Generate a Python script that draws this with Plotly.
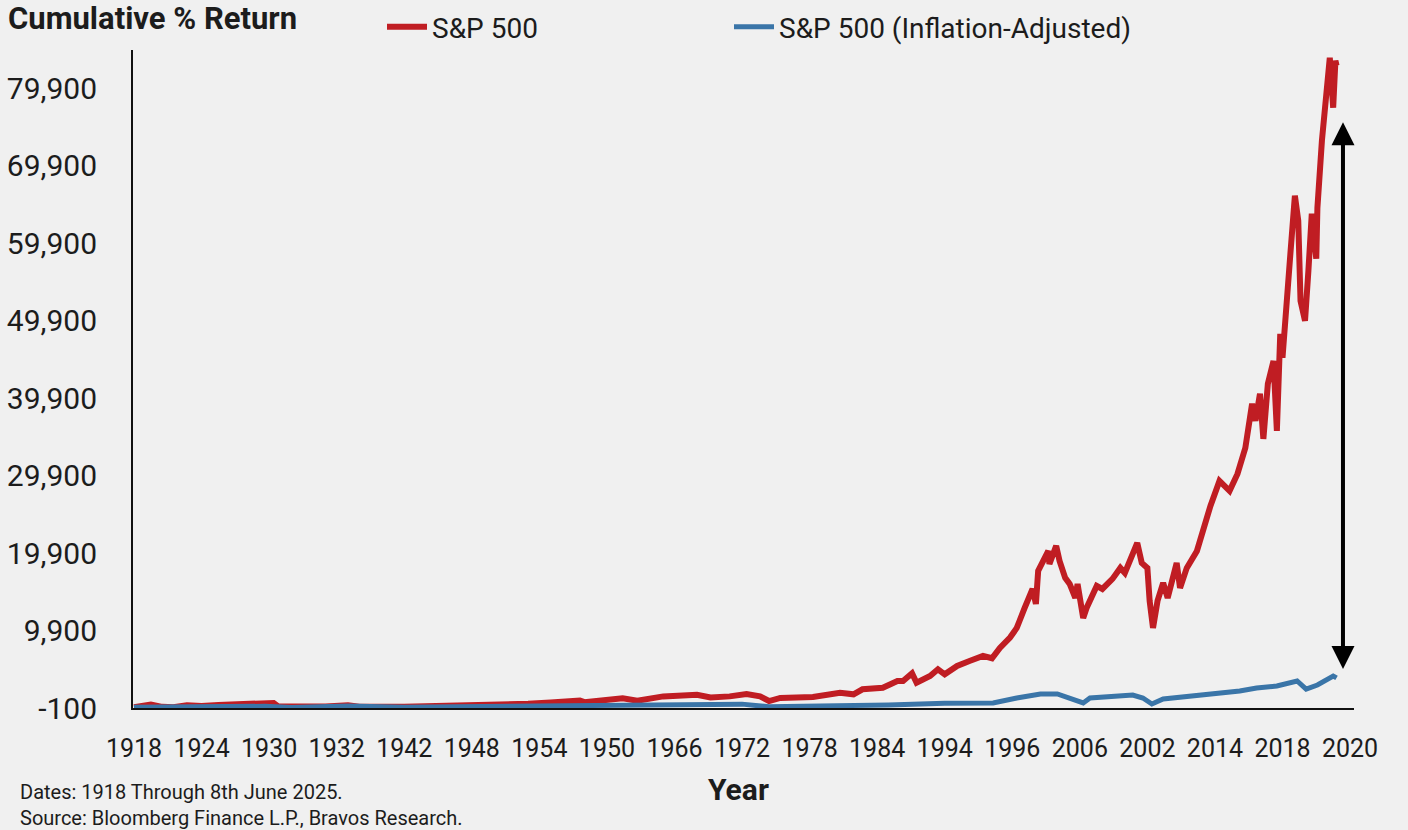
import plotly.graph_objects as go

# ---- data ----
sp_years = [1918.0, 1919.5, 1920.5, 1921.5, 1922.7, 1924.0, 1925.5, 1927.0, 1928.5, 1929.6,
            1930.4, 1930.8, 1932.0, 1933.0, 1935.0, 1937.0, 1938.0, 1942.0, 1945.9, 1947.0,
            1950.2, 1953.0, 1955.0, 1957.6, 1958.0, 1959.5, 1961.4, 1962.7, 1965.0, 1968.0,
            1969.2, 1970.9, 1972.4, 1973.6, 1974.4, 1975.4, 1978.3, 1980.7, 1981.9, 1982.7,
            1984.5, 1985.8, 1986.3, 1987.1, 1987.5, 1988.7, 1989.4, 1990.0, 1991.1, 1992.2,
            1993.4, 1994.2, 1994.9, 1995.8, 1996.4, 1997.1, 1997.8, 1998.1, 1998.3, 1999.2,
            1999.3, 1999.9, 2000.2, 2000.7, 2001.1, 2001.6, 2001.8, 2002.3, 2002.6, 2003.5,
            2004.0, 2004.9, 2005.6, 2006.0, 2007.1, 2007.5, 2008.0, 2008.2, 2008.5, 2008.9,
            2009.4, 2009.8, 2010.6, 2010.9, 2011.5, 2012.4, 2012.9, 2013.6, 2014.4, 2015.3,
            2016.0, 2016.7, 2017.3, 2017.6, 2018.0, 2018.3, 2018.7, 2019.2, 2019.5, 2019.8,
            2020.0, 2020.4, 2020.7, 2021.1, 2021.4, 2021.6, 2022.0, 2022.3, 2022.6, 2023.0,
            2023.1, 2023.5, 2024.0, 2024.2, 2024.5, 2024.7, 2024.8]
sp_values = [0, 350, 50, 0, 250, 150, 300, 400, 550, 650,
             550, 100, 50, 150, 100, 250, 50, 50, 200, 50,
             200, 450, 600, 850, 650, 900, 1150, 850, 1400, 1600,
             1250, 1400, 1700, 1400, 800, 1200, 1320, 1880, 1670, 2320,
             2520, 3390, 3390, 4380, 3170, 4030, 4900, 4250, 5330, 5970,
             6620, 6320, 7650, 9000, 10240, 12820, 15270, 13340, 17600, 20180,
             18500, 20830, 18890, 16700, 15920, 14110, 15920, 11530, 12820, 15660,
             15270, 16570, 17990, 17340, 21220, 18630, 17990, 13720, 10240, 13720,
             16050, 14110, 18630, 15400, 17990, 20180, 22770, 26000, 29230, 27940,
             30130, 33490, 39180, 36980, 40470, 34650, 41760, 44730, 35690, 48220,
             45120, 51580, 58560, 66050, 62820, 52480, 49900, 56360, 63720, 57910,
             64500, 73160, 80000, 83880, 77420, 83490, 82850]

real_years = [1918.0, 1922.7, 1929.6, 1932.0, 1937.0, 1942.0, 1950.0, 1960.0, 1966.0, 1969.0,
              1972.0, 1974.4, 1980.0, 1985.0, 1990.0, 1994.3, 1996.4, 1998.5, 2000.0, 2001.4,
              2002.3, 2002.9, 2006.7, 2007.6, 2008.4, 2009.4, 2011.2, 2014.2, 2016.2, 2017.7,
              2019.5, 2021.3, 2022.1, 2023.1, 2024.5, 2024.8]
real_values = [0, 80, 120, -40, 150, 0, 100, 200, 300, 350,
               400, 50, 150, 300, 500, 550, 1190, 1710, 1710, 1060,
               550, 1190, 1580, 1190, 420, 1060, 1320, 1710, 2100, 2480,
               2740, 3390, 2350, 2870, 4030, 3780]

tick_years = [1918 + 6 * i for i in range(19)]
tick_labels = ["1918", "1924", "1930", "1932", "1942", "1948", "1954", "1950", "1966",
               "1972", "1978", "1984", "1994", "1996", "2006", "2002", "2014", "2018", "2020"]
y_ticks = [-100, 9900, 19900, 29900, 39900, 49900, 59900, 69900, 79900]
y_labels = ["-100", "9,900", "19,900", "29,900", "39,900", "49,900", "59,900", "69,900", "79,900"]

gap_year = 2025.37
gap_top = 75740
gap_bottom = 4940

footnote_lines = ["Dates: 1918 Through 8th June 2025.",
                  "Source: Bloomberg Finance L.P., Bravos Research."]

RED = "#c01d23"
BLUE = "#3a75a8"
BG = "#f0f0f0"
TXT = "#1c1c1c"
FONT = "Roboto"

fig = go.Figure()
fig.add_trace(go.Scatter(x=sp_years, y=sp_values, mode="lines", name="S&P 500",
                         line=dict(color=RED, width=6), legend="legend"))
fig.add_trace(go.Scatter(x=real_years, y=real_values, mode="lines",
                         name="S&P 500 (Inflation-Adjusted)",
                         line=dict(color=BLUE, width=5), legend="legend2"))

fig.add_annotation(x=gap_year, y=gap_bottom, ax=gap_year, ay=gap_top,
                   xref="x", yref="y", axref="x", ayref="y", text="",
                   showarrow=True, arrowside="end+start", arrowhead=2,
                   arrowsize=1.15, arrowwidth=4, arrowcolor="#000000")

fig.add_annotation(x=-0.094, y=(708 - 805) / 658, xref="paper", yref="paper",
                   text="<br>".join(footnote_lines), showarrow=False, align="left",
                   xanchor="left", yanchor="middle",
                   font=dict(family=FONT, size=20, color=TXT))
fig.add_annotation(x=(738 - 133) / 1221, y=(708 - 789) / 658, xref="paper", yref="paper",
                   text="<b>Year</b>", showarrow=False, xanchor="center", yanchor="middle",
                   font=dict(family=FONT, size=30, color=TXT))

legend_style = dict(orientation="h", xanchor="left", y=1 - 27 / 830,
                    yanchor="middle", xref="container", yref="container",
                    font=dict(family=FONT, size=28, color=TXT),
                    bgcolor="rgba(0,0,0,0)", itemwidth=40)

fig.update_layout(
    width=1408, height=830,
    paper_bgcolor=BG, plot_bgcolor=BG,
    margin=dict(l=133, r=54, t=50, b=122, autoexpand=False),
    font=dict(family=FONT, color=TXT),
    title=dict(text="<b>Cumulative % Return</b>", x=8 / 1408, xanchor="left",
               y=1 - 18 / 830, yanchor="middle", xref="container", yref="container",
               font=dict(family=FONT, size=31, color=TXT)),
    legend=dict(x=382 / 1408, **legend_style),
    legend2=dict(x=729 / 1408, **legend_style),
    showlegend=True,
)
fig.update_xaxes(range=[1917.91, 2026.35], tickmode="array", tickvals=tick_years,
                 ticktext=tick_labels, showgrid=False, zeroline=False,
                 showline=True, linecolor="#111111", linewidth=2, ticks="",
                 ticklabelstandoff=17, tickfont=dict(family=FONT, size=25, color=TXT))
fig.update_yaxes(range=[-100, 84870], tickmode="array", tickvals=y_ticks,
                 ticktext=y_labels, showgrid=False, zeroline=False,
                 showline=True, linecolor="#111111", linewidth=2, ticks="",
                 ticklabelstandoff=28, tickfont=dict(family=FONT, size=30, color=TXT))

fig.write_html("out.html")
